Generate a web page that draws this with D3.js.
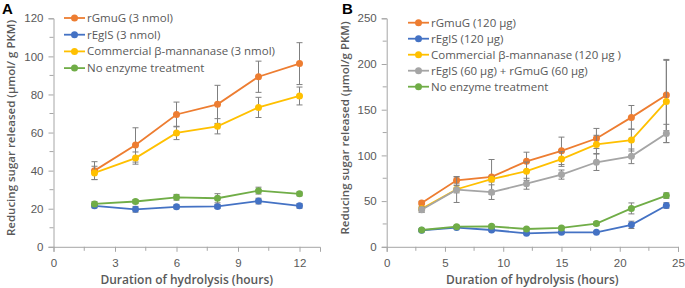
<!DOCTYPE html>
<html>
<head>
<meta charset="utf-8">
<script src="https://cdn.jsdelivr.net/npm/d3@7"></script>
<style>
  body { margin: 0; background: #fff; }
  svg { font-family: "Open Sans", "Liberation Sans", sans-serif; }
</style>
</head>
<body>
<svg id="chart" width="685" height="288"></svg>
<script>
// panel A data (3 nmol enzyme, hours 2..12)
const hoursA = [2, 4, 6, 8, 10, 12];
const namesA = ["rGmuG (3 nmol)", "rEglS (3 nmol)", "Commercial β-mannanase (3 nmol)", "No enzyme treatment"];
const gmugA = [40, 53.5, 69.5, 74.8, 89.3, 96.2];
const gmugErrA = [4.7, 9, 6.5, 10, 8.2, 11];
const eglsA = [21.5, 19.7, 21, 21.2, 24, 21.5];
const eglsErrA = [1, 1.5, 1, 1, 1.5, 1.2];
const mannA = [38.8, 46.6, 59.8, 63.3, 73.2, 79.2];
const mannErrA = [3.5, 3.2, 3.5, 4, 5.3, 4.7];
const noneA = [22.5, 23.8, 26, 25.5, 29.5, 27.8];
const noneErrA = [1.2, 1, 1.5, 2.4, 1.8, 1];
const xTicksA = [0, 3, 6, 9, 12];
const yTicksA = [0, 20, 40, 60, 80, 100, 120];

// panel B data (µg enzyme, hours 3..24)
const hoursB = [3, 6, 9, 12, 15, 18, 21, 24];
const namesB = ["rGmuG (120 µg)", "rEglS (120 µg)", "Commercial β-mannanase (120 µg )", "rEglS (60 µg) + rGmuG (60 µg)", "No enzyme treatment"];
const gmugB = [47.8, 72.8, 76.5, 93.5, 105, 118.5, 141.6, 166];
const gmugErrB = [2, 4, 19, 10, 15, 11, 13, 39];
const eglsB = [18, 21, 18.4, 14.7, 15.8, 15.8, 24, 45.2];
const eglsErrB = [1, 1, 1.5, 1, 1, 1, 4, 3];
const mannB = [41.5, 63, 74, 82.7, 96, 112, 116.8, 159];
const mannErrB = [2, 4, 3, 10, 8, 10, 12, 45];
const mixB = [40.5, 62.5, 59.8, 69, 79, 92.5, 99, 124];
const mixErrB = [3, 14, 8, 6, 5, 9, 8, 10];
const noneB = [18.4, 22, 22.4, 19.5, 20.6, 25.4, 42, 56];
const noneErrB = [1, 1.5, 1.5, 1, 1, 2, 6, 3];
const xTicksB = [0, 5, 10, 15, 20, 25];
const yTicksB = [0, 50, 100, 150, 200, 250];

const colors = { gmug: "#ED7D31", egls: "#4472C4", mann: "#FFC000", mix: "#A5A5A5", none: "#70AD47" };
const textColor = "#595959";
const axisColor = "#a6a6a6";
const errColor = "#7f7f7f";

const svg = d3.select("#chart");

function drawPanel(cfg) {
  const g = svg.append("g");
  const x = d3.scaleLinear().domain(cfg.xDomain).range([cfg.left, cfg.right]);
  const y = d3.scaleLinear().domain(cfg.yDomain).range([cfg.bottom, cfg.top]);

  // minor ticks
  g.selectAll(".ymin").data(cfg.yMinor).enter().append("line")
    .attr("x1", cfg.left - 4).attr("x2", cfg.left)
    .attr("y1", d => y(d)).attr("y2", d => y(d))
    .attr("stroke", axisColor);
  g.selectAll(".xmin").data(cfg.xMinor).enter().append("line")
    .attr("x1", d => x(d)).attr("x2", d => x(d))
    .attr("y1", cfg.bottom).attr("y2", cfg.bottom + 4)
    .attr("stroke", axisColor);

  const yAxis = d3.axisLeft(y).tickValues(cfg.yTicks).tickSize(5).tickPadding(5);
  const xAxis = d3.axisBottom(x).tickValues(cfg.xTicks).tickSize(5).tickPadding(7);

  const ya = g.append("g").attr("transform", `translate(${cfg.left},0)`).call(yAxis);
  const xa = g.append("g").attr("transform", `translate(0,${cfg.bottom})`).call(xAxis);
  [ya, xa].forEach(a => {
    a.select(".domain").attr("stroke", axisColor);
    a.selectAll(".tick line").attr("stroke", axisColor);
    a.selectAll(".tick text").attr("fill", textColor).style("font-size", "11.5px");
  });

  // axis titles
  g.append("text")
    .attr("x", (cfg.left + cfg.right) / 2).attr("y", 284)
    .attr("text-anchor", "middle").attr("fill", textColor)
    .style("font-size", "12px").style("font-weight", "600")
    .text("Duration of hydrolysis (hours)");
  g.append("text")
    .attr("transform", `translate(${cfg.yTitleX},${cfg.yTitleY}) rotate(-90)`)
    .attr("text-anchor", "middle").attr("fill", textColor)
    .style("font-size", "11.5px").style("font-weight", "600")
    .text(cfg.yTitle);

  // panel letter
  g.append("text").attr("x", cfg.letterX).attr("y", 14)
    .style("font-family", "'Liberation Sans', Arial, sans-serif")
    .style("font-size", "15px").style("font-weight", "bold").attr("fill", "#000")
    .text(cfg.letter);

  const line = d3.line().x(d => x(d[0])).y(d => y(d[1]));

  cfg.series.forEach(s => {
    const pts = cfg.hours.map((h, i) => [h, s.values[i], s.err[i]]);
    const sg = g.append("g");
    sg.append("path").datum(pts)
      .attr("d", line).attr("fill", "none")
      .attr("stroke", s.color).attr("stroke-width", 1.8);
    // error bars
    sg.selectAll(".eb").data(pts).enter().append("path")
      .attr("d", d => {
        const cx = x(d[0]), t = y(d[1] + d[2]), b = y(d[1] - d[2]);
        return `M${cx},${t}V${b}M${cx - 3},${t}H${cx + 3}M${cx - 3},${b}H${cx + 3}`;
      })
      .attr("stroke", errColor).attr("stroke-width", 1).attr("fill", "none");
    sg.selectAll("circle").data(pts).enter().append("circle")
      .attr("cx", d => x(d[0])).attr("cy", d => y(d[1]))
      .attr("r", 3.5).attr("fill", s.color);
  });

  // legend
  const lg = g.append("g");
  cfg.series.forEach((s, i) => {
    const yy = cfg.legendY + i * cfg.legendStep;
    lg.append("line").attr("x1", cfg.legendX).attr("x2", cfg.legendX + 21)
      .attr("y1", yy).attr("y2", yy).attr("stroke", s.color).attr("stroke-width", 1.8);
    lg.append("circle").attr("cx", cfg.legendX + 10.5).attr("cy", yy).attr("r", 3.5).attr("fill", s.color);
    lg.append("text").attr("x", cfg.legendX + 23).attr("y", yy).attr("dy", "0.35em")
      .attr("fill", textColor).style("font-size", "11.5px").text(s.name);
  });
}

drawPanel({
  letter: "A", letterX: 2,
  left: 53.5, right: 320, top: 18.3, bottom: 246.8,
  xDomain: [0, 13], yDomain: [0, 120],
  xTicks: xTicksA, yTicks: yTicksA,
  xMinor: d3.range(1.5, 13, 3), yMinor: d3.range(10, 120, 20),
  yTitle: "Reducing sugar released (µmol/ g PKM)", yTitleX: 15, yTitleY: 128,
  hours: hoursA,
  legendX: 64, legendY: 18, legendStep: 16.7,
  series: [
    { name: namesA[0], values: gmugA, err: gmugErrA, color: colors.gmug },
    { name: namesA[1], values: eglsA, err: eglsErrA, color: colors.egls },
    { name: namesA[2], values: mannA, err: mannErrA, color: colors.mann },
    { name: namesA[3], values: noneA, err: noneErrA, color: colors.none }
  ]
});

drawPanel({
  letter: "B", letterX: 342,
  left: 386.7, right: 678, top: 18.3, bottom: 246.8,
  xDomain: [0, 25], yDomain: [0, 250],
  xTicks: xTicksB, yTicks: yTicksB,
  xMinor: d3.range(2.5, 25, 5), yMinor: d3.range(25, 250, 50),
  yTitle: "Reducing sugar released (µmol/g PKM)", yTitleX: 349, yTitleY: 128,
  hours: hoursB,
  legendX: 408, legendY: 22.7, legendStep: 16,
  series: [
    { name: namesB[0], values: gmugB, err: gmugErrB, color: colors.gmug },
    { name: namesB[1], values: eglsB, err: eglsErrB, color: colors.egls },
    { name: namesB[2], values: mannB, err: mannErrB, color: colors.mann },
    { name: namesB[3], values: mixB, err: mixErrB, color: colors.mix },
    { name: namesB[4], values: noneB, err: noneErrB, color: colors.none }
  ]
});
</script>
</body>
</html>
